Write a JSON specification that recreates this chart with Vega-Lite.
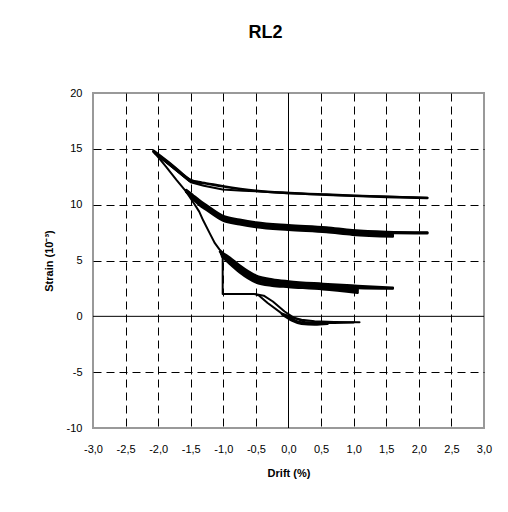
{
  "$schema": "https://vega.github.io/schema/vega-lite/v6.json",
  "width": 391,
  "height": 335,
  "autosize": {"type": "none"},
  "padding": {"left": 93, "top": 93, "right": 24, "bottom": 84},
  "background": "white",
  "title": {"text": "RL2", "fontSize": 18, "fontWeight": "bold", "font": "Liberation Sans", "anchor": "middle", "frame": "group", "dx": -23, "offset": 45, "color": "black"},
  "datasets": {
    "curves": [
      {"s":"T","o":1,"x":-2.07,"y":14.75},{"s":"T","o":2,"x":-1.88,"y":13.41},{"s":"T","o":3,"x":-1.72,"y":12.22},{"s":"T","o":4,"x":-1.57,"y":11.17},{"s":"T","o":5,"x":-1.45,"y":10.1},{"s":"T","o":6,"x":-1.37,"y":9.38},{"s":"T","o":7,"x":-1.31,"y":8.6},{"s":"T","o":8,"x":-1.21,"y":7.45},{"s":"T","o":9,"x":-1.13,"y":6.55},{"s":"T","o":10,"x":-1.06,"y":6.0},{"s":"T","o":11,"x":-1.01,"y":5.7},{"s":"T","o":12,"x":-1.01,"y":1.99},{"s":"T","o":13,"x":-0.52,"y":1.99},{"s":"T","o":14,"x":-0.45,"y":1.85},{"s":"T","o":15,"x":-0.32,"y":1.2},{"s":"T","o":16,"x":-0.11,"y":0.29},{"s":"T","o":17,"x":0.04,"y":-0.05},{"s":"T","o":18,"x":0.2,"y":-0.3},{"s":"T","o":19,"x":0.4,"y":-0.45},{"s":"T","o":20,"x":0.7,"y":-0.5},{"s":"T","o":21,"x":1.09,"y":-0.52},
      {"s":"A2","o":1,"x":-2.07,"y":14.75},{"s":"A2","o":2,"x":-1.77,"y":13.3},{"s":"A2","o":3,"x":-1.5,"y":12.0},{"s":"A2","o":4,"x":-1.3,"y":11.7},{"s":"A2","o":5,"x":-1.01,"y":11.35},{"s":"A2","o":6,"x":-0.7,"y":11.25},{"s":"A2","o":7,"x":-0.5,"y":11.2},{"s":"A2","o":8,"x":0,"y":11.02},{"s":"A2","o":9,"x":0.58,"y":10.88},{"s":"A2","o":10,"x":1.0,"y":10.8},{"s":"A2","o":11,"x":2.13,"y":10.63},
      {"s":"D2","o":1,"x":-0.5,"y":1.99},{"s":"D2","o":2,"x":-0.38,"y":1.85},{"s":"D2","o":3,"x":-0.24,"y":1.33},{"s":"D2","o":4,"x":-0.06,"y":0.43},{"s":"D2","o":5,"x":0.09,"y":-0.16},{"s":"D2","o":6,"x":0.25,"y":-0.5},{"s":"D2","o":7,"x":0.45,"y":-0.6},{"s":"D2","o":8,"x":0.7,"y":-0.6},{"s":"D2","o":9,"x":1.0,"y":-0.55},

      {"s":"A1","o":1,"x":-2.07,"y":14.75},{"s":"A1","o":2,"x":-1.77,"y":13.4},{"s":"A1","o":3,"x":-1.47,"y":12.1},{"s":"A1","o":4,"x":-1.26,"y":11.9},{"s":"A1","o":5,"x":-1.01,"y":11.65},{"s":"A1","o":6,"x":-0.5,"y":11.25},{"s":"A1","o":7,"x":0.015,"y":11.05},{"s":"A1","o":8,"x":0.58,"y":10.9},{"s":"A1","o":9,"x":1.0,"y":10.8},{"s":"A1","o":10,"x":1.5,"y":10.7},{"s":"A1","o":11,"x":2.13,"y":10.6},
      {"s":"A3","o":1,"x":-2.07,"y":14.82},{"s":"A3","o":2,"x":-1.77,"y":13.47},{"s":"A3","o":3,"x":-1.5,"y":12.2},{"s":"A3","o":4,"x":-1.35,"y":12.0},
      {"s":"A4","o":1,"x":-2.05,"y":14.6},{"s":"A4","o":2,"x":-1.77,"y":13.33},{"s":"A4","o":3,"x":-1.52,"y":12.15},

      {"s":"B1","o":1,"x":-1.57,"y":11.3},{"s":"B1","o":2,"x":-1.47,"y":10.85},{"s":"B1","o":3,"x":-1.37,"y":10.4},{"s":"B1","o":4,"x":-1.26,"y":9.95},{"s":"B1","o":5,"x":-1.01,"y":9.0},{"s":"B1","o":6,"x":-0.75,"y":8.65},{"s":"B1","o":7,"x":-0.5,"y":8.4},{"s":"B1","o":8,"x":0,"y":8.15},{"s":"B1","o":9,"x":0.58,"y":7.95},{"s":"B1","o":10,"x":0.98,"y":7.7},{"s":"B1","o":11,"x":1.5,"y":7.55},{"s":"B1","o":12,"x":2.13,"y":7.5},
      {"s":"B2","o":1,"x":-1.57,"y":11.25},{"s":"B2","o":2,"x":-1.47,"y":10.78},{"s":"B2","o":3,"x":-1.37,"y":10.3},{"s":"B2","o":4,"x":-1.26,"y":9.85},{"s":"B2","o":5,"x":-1.01,"y":8.9},{"s":"B2","o":6,"x":-0.75,"y":8.55},{"s":"B2","o":7,"x":-0.5,"y":8.3},{"s":"B2","o":8,"x":0,"y":8.05},{"s":"B2","o":9,"x":0.58,"y":7.85},{"s":"B2","o":10,"x":0.98,"y":7.6},{"s":"B2","o":11,"x":1.5,"y":7.5},{"s":"B2","o":12,"x":2.13,"y":7.45},
      {"s":"B3","o":1,"x":-1.57,"y":11.2},{"s":"B3","o":2,"x":-1.47,"y":10.7},{"s":"B3","o":3,"x":-1.37,"y":10.2},{"s":"B3","o":4,"x":-1.26,"y":9.75},{"s":"B3","o":5,"x":-1.01,"y":8.8},{"s":"B3","o":6,"x":-0.75,"y":8.45},{"s":"B3","o":7,"x":-0.5,"y":8.2},{"s":"B3","o":8,"x":0,"y":7.95},{"s":"B3","o":9,"x":0.58,"y":7.75},{"s":"B3","o":10,"x":0.98,"y":7.5},{"s":"B3","o":11,"x":1.5,"y":7.4},{"s":"B3","o":12,"x":1.6,"y":7.38},
      {"s":"B4","o":1,"x":-1.57,"y":11.15},{"s":"B4","o":2,"x":-1.47,"y":10.62},{"s":"B4","o":3,"x":-1.37,"y":10.1},{"s":"B4","o":4,"x":-1.26,"y":9.65},{"s":"B4","o":5,"x":-1.01,"y":8.7},{"s":"B4","o":6,"x":-0.75,"y":8.35},{"s":"B4","o":7,"x":-0.5,"y":8.1},{"s":"B4","o":8,"x":0,"y":7.85},{"s":"B4","o":9,"x":0.58,"y":7.65},{"s":"B4","o":10,"x":0.98,"y":7.4},{"s":"B4","o":11,"x":1.6,"y":7.25},
      {"s":"B5","o":1,"x":-1.55,"y":11.05},{"s":"B5","o":2,"x":-1.47,"y":10.55},{"s":"B5","o":3,"x":-1.37,"y":10.0},{"s":"B5","o":4,"x":-1.26,"y":9.55},{"s":"B5","o":5,"x":-1.01,"y":8.6},{"s":"B5","o":6,"x":-0.75,"y":8.25},{"s":"B5","o":7,"x":-0.5,"y":8.0},{"s":"B5","o":8,"x":0,"y":7.75},{"s":"B5","o":9,"x":0.58,"y":7.55},{"s":"B5","o":10,"x":0.98,"y":7.32},{"s":"B5","o":11,"x":1.6,"y":7.15},

      {"s":"C1","o":1,"x":-1.05,"y":5.8},{"s":"C1","o":2,"x":-0.9,"y":5.25},{"s":"C1","o":3,"x":-0.75,"y":4.55},{"s":"C1","o":4,"x":-0.5,"y":3.65},{"s":"C1","o":5,"x":-0.25,"y":3.3},{"s":"C1","o":6,"x":0,"y":3.12},{"s":"C1","o":7,"x":0.53,"y":2.9},{"s":"C1","o":8,"x":1.06,"y":2.72},{"s":"C1","o":9,"x":1.6,"y":2.55},
      {"s":"C2","o":1,"x":-1.04,"y":5.7},{"s":"C2","o":2,"x":-0.9,"y":5.1},{"s":"C2","o":3,"x":-0.75,"y":4.4},{"s":"C2","o":4,"x":-0.5,"y":3.5},{"s":"C2","o":5,"x":-0.25,"y":3.15},{"s":"C2","o":6,"x":0,"y":3.0},{"s":"C2","o":7,"x":0.53,"y":2.78},{"s":"C2","o":8,"x":1.06,"y":2.55},{"s":"C2","o":9,"x":1.6,"y":2.5},
      {"s":"C3","o":1,"x":-1.03,"y":5.55},{"s":"C3","o":2,"x":-0.9,"y":4.95},{"s":"C3","o":3,"x":-0.75,"y":4.25},{"s":"C3","o":4,"x":-0.5,"y":3.35},{"s":"C3","o":5,"x":-0.25,"y":3.02},{"s":"C3","o":6,"x":0,"y":2.88},{"s":"C3","o":7,"x":0.53,"y":2.67},{"s":"C3","o":8,"x":1.06,"y":2.42},
      {"s":"C4","o":1,"x":-1.02,"y":5.4},{"s":"C4","o":2,"x":-0.9,"y":4.82},{"s":"C4","o":3,"x":-0.75,"y":4.1},{"s":"C4","o":4,"x":-0.5,"y":3.2},{"s":"C4","o":5,"x":-0.25,"y":2.88},{"s":"C4","o":6,"x":0,"y":2.76},{"s":"C4","o":7,"x":0.53,"y":2.55},{"s":"C4","o":8,"x":1.06,"y":2.28},
      {"s":"C5","o":1,"x":-1.01,"y":5.3},{"s":"C5","o":2,"x":-0.9,"y":4.7},{"s":"C5","o":3,"x":-0.75,"y":3.95},{"s":"C5","o":4,"x":-0.5,"y":3.05},{"s":"C5","o":5,"x":-0.25,"y":2.75},{"s":"C5","o":6,"x":0,"y":2.64},{"s":"C5","o":7,"x":0.53,"y":2.43},{"s":"C5","o":8,"x":1.06,"y":2.12},

      {"s":"D3","o":1,"x":-0.1,"y":0.2},{"s":"D3","o":2,"x":0.05,"y":-0.35},{"s":"D3","o":3,"x":0.2,"y":-0.65},{"s":"D3","o":4,"x":0.4,"y":-0.72},{"s":"D3","o":5,"x":0.6,"y":-0.65},
      {"s":"D4","o":1,"x":0.0,"y":0.0},{"s":"D4","o":2,"x":0.15,"y":-0.5},{"s":"D4","o":3,"x":0.3,"y":-0.6},{"s":"D4","o":4,"x":0.55,"y":-0.55}
    ],
    "zeroX": [{"v": 0}],
    "zeroY": [{"v": 0}]
  },
  "encoding": {
    "x": {
      "field": "x", "type": "quantitative",
      "scale": {"domain": [-3, 3], "nice": false, "zero": false},
      "axis": {
        "title": "Drift (%)", "values": [-3, -2.5, -2, -1.5, -1, -0.5, 0, 0.5, 1, 1.5, 2, 2.5, 3],
        "format": ".1f", "grid": true, "domain": false, "ticks": false, "labelOverlap": false, "labelFlush": false,
        "labelPadding": 15, "titlePadding": 13,
        "gridColor": {"condition": {"test": "datum.value <= -3 || datum.value >= 3 || datum.value == 0", "value": "transparent"}, "value": "black"}
      }
    },
    "y": {
      "field": "y", "type": "quantitative",
      "scale": {"domain": [-10, 20], "nice": false, "zero": false},
      "axis": {
        "title": "Strain (10⁻³)", "values": [-10, -5, 0, 5, 10, 15, 20],
        "format": "d", "grid": true, "domain": false, "ticks": false, "labelOverlap": false, "labelFlush": false,
        "labelPadding": 11, "titlePadding": 12,
        "gridColor": {"condition": {"test": "datum.value <= -10 || datum.value >= 20 || datum.value == 0", "value": "transparent"}, "value": "black"}
      }
    }
  },
  "layer": [
    {
      "data": {"name": "zeroX"},
      "mark": {"type": "rule", "color": "black", "strokeWidth": 1},
      "encoding": {"x": {"field": "v", "type": "quantitative"}, "y": null}
    },
    {
      "data": {"name": "zeroY"},
      "mark": {"type": "rule", "color": "black", "strokeWidth": 1},
      "encoding": {"y": {"field": "v", "type": "quantitative"}, "x": null}
    },
    {
      "data": {"name": "curves"},
      "transform": [{"filter": "datum.s == 'T' || datum.s == 'A2' || datum.s == 'D2'"}],
      "mark": {"type": "line", "color": "black", "strokeWidth": 2, "strokeJoin": "round", "strokeCap": "round"},
      "encoding": {
        "detail": {"field": "s"},
        "order": {"field": "o", "type": "quantitative"}
      }
    },
    {
      "data": {"name": "curves"},
      "transform": [{"filter": "datum.s != 'T' && datum.s != 'A2' && datum.s != 'D2'"}],
      "mark": {"type": "line", "color": "black", "strokeWidth": 2.6, "strokeJoin": "round", "strokeCap": "round", "interpolate": "monotone"},
      "encoding": {
        "detail": {"field": "s"},
        "order": {"field": "o", "type": "quantitative"}
      }
    }
  ],
  "config": {
    "font": "Liberation Sans",
    "locale": {"number": {"decimal": ",", "thousands": ".", "grouping": [3], "currency": ["", " €"], "minus": "-"}},
    "view": {"stroke": "#999999", "strokeWidth": 2},
    "axis": {
      "gridDash": [8, 5],
      "gridWidth": 1,
      "gridOpacity": 1,
      "labelFont": "Liberation Sans",
      "labelFontSize": 11,
      "labelColor": "black",
      "titleFont": "Liberation Sans",
      "titleFontSize": 11,
      "titleFontWeight": "bold",
      "titleColor": "black"
    }
  }
}
